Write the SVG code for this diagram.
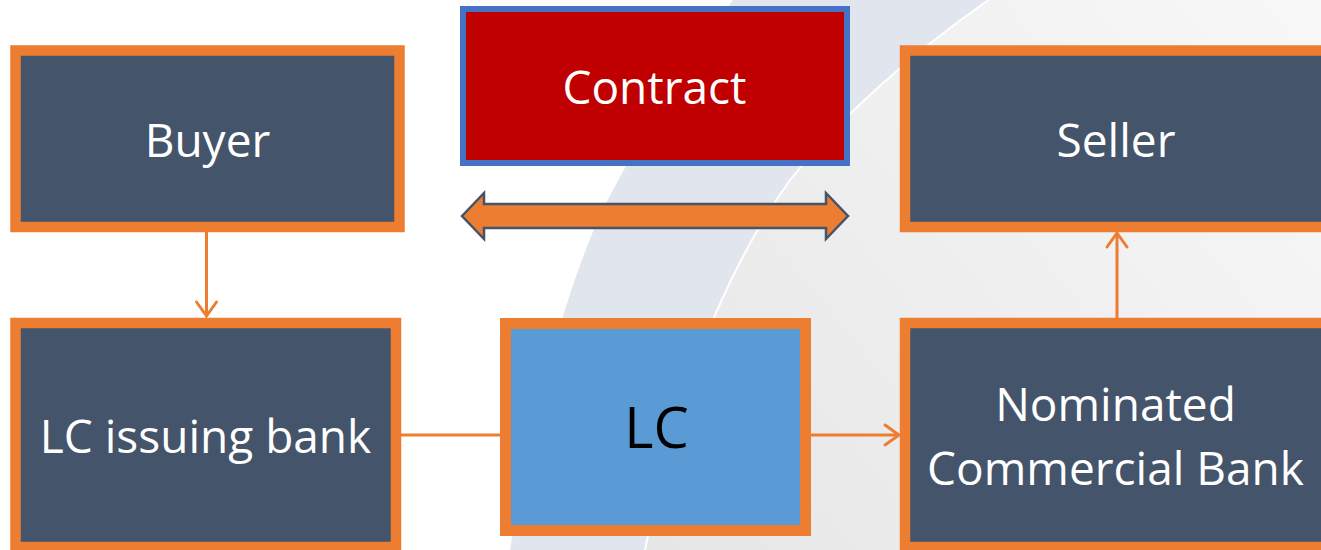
<svg xmlns="http://www.w3.org/2000/svg" width="1321" height="550" viewBox="0 0 1321 550">
  <style>
    .box { fill: #44546A; stroke: #ED7D31; stroke-width: 10.5; }
    .lbl { font-family: "Open Sans", "Liberation Sans", sans-serif; font-size: 46px; fill: #FFFFFF; text-anchor: middle; }
    .conn { stroke: #ED7D31; stroke-width: 3; fill: none; }
  </style>
  <defs>
    <linearGradient id="bgGrey" x1="650" y1="550" x2="1321" y2="0" gradientUnits="userSpaceOnUse">
      <stop offset="0" stop-color="#E6E6E6"/>
      <stop offset="1" stop-color="#F8F8F8"/>
    </linearGradient>
    <marker id="chev" markerUnits="userSpaceOnUse" markerWidth="20" markerHeight="26" viewBox="-17 -13 20 26" refX="0" refY="0" orient="auto">
      <path d="M-14,-10 L0,0 L-14,10" fill="none" stroke="#ED7D31" stroke-width="3" stroke-linecap="round" stroke-linejoin="miter"/>
    </marker>
  </defs>

  <g id="background">
    <rect x="0" y="0" width="1321" height="550" fill="#FFFFFF"/>
    <path d="M743,-15 L733,0 Q650,115 600,215 Q545,340 510,550 L645,550 Q690,320 790,180 Q870,80 1010,-15 Z" fill="#E1E6EE"/>
    <path d="M1010,-15 Q870,80 790,180 Q690,320 645,550 L1321,550 L1321,-15 Z" fill="url(#bgGrey)"/>
    <path d="M1010,-15 Q870,80 790,180 Q690,320 645,550" fill="none" stroke="#FFFFFF" stroke-width="2"/>
  </g>

  <g id="connectors">
    <line class="conn" x1="206.5" y1="232" x2="206.5" y2="316" marker-end="url(#chev)"/>
    <line class="conn" x1="1117" y1="318" x2="1117" y2="233" marker-end="url(#chev)"/>
    <line class="conn" x1="401" y1="435" x2="500" y2="435"/>
    <line class="conn" x1="811" y1="435" x2="899" y2="435" marker-end="url(#chev)"/>
    <polygon id="contract-arrow" points="462,216 484,193 484,204 826,204 826,193 848,216 826,239 826,228 484,228 484,239" fill="#ED7D31" stroke="#44546A" stroke-width="2.5" stroke-linejoin="miter"/>
  </g>

  <g id="buyer">
    <rect class="box" x="15.5" y="50.5" width="384" height="176.5"/>
    <text class="lbl" x="207.5" y="157">Buyer</text>
  </g>

  <g id="contract">
    <rect x="463" y="9" width="384" height="154" fill="#C00000" stroke="#4472C4" stroke-width="6"/>
    <text class="lbl" x="654.5" y="104">Contract</text>
  </g>

  <g id="seller">
    <rect class="box" x="905" y="50.5" width="430" height="176.5"/>
    <text class="lbl" x="1116" y="157">Seller</text>
  </g>

  <g id="lc-issuing-bank">
    <rect class="box" x="15.5" y="323" width="380.5" height="224"/>
    <text class="lbl" x="205.5" y="453">LC issuing bank</text>
  </g>

  <g id="lc">
    <rect x="505.5" y="323.5" width="300" height="207" fill="#5B9BD5" stroke="#ED7D31" stroke-width="11"/>
    <text class="lbl" x="656.5" y="448" style="fill:#000000;font-size:56px">LC</text>
  </g>

  <g id="nominated-commercial-bank">
    <rect class="box" x="905" y="323" width="430" height="224"/>
    <text class="lbl" x="1115.5" y="421">Nominated</text>
    <text class="lbl" x="1115.5" y="485">Commercial Bank</text>
  </g>
</svg>
